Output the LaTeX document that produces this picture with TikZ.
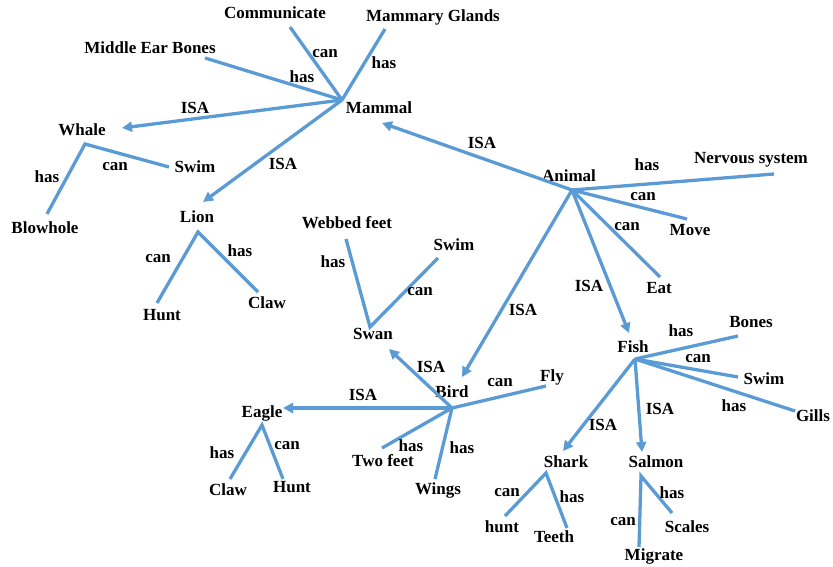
\documentclass[tikz,border=0pt]{standalone}
\usepackage{fontspec}
\setmainfont{Liberation Serif}
\usetikzlibrary{arrows.meta}
\definecolor{linkblue}{RGB}{91,155,213}
\tikzset{
  txt/.style={font=\fontsize{17}{17}\selectfont\bfseries, inner sep=0pt},
  lnk/.style={draw=linkblue, line width=3.3pt},
  isa/.style={lnk, -{Triangle[length=10pt,width=10pt]}},
}
\begin{document}
\begin{tikzpicture}[x=1pt,y=-1pt]
  \useasboundingbox (0,0) rectangle (833,567);
  % hubs
  \coordinate (mamH) at (342,100); \coordinate (aniH) at (572,190);
  \coordinate (whaH) at (85,144); \coordinate (lioH) at (198,232);
  \coordinate (swaH) at (370,327); \coordinate (birH) at (452,408);
  \coordinate (eagH) at (262,425); \coordinate (fisH) at (635,359);
  \coordinate (shaH) at (546,473); \coordinate (salH) at (641,476);
  % concept labels
  \node[txt] (mam) at (379,108) {Mammal};
  \node[txt] (ani) at (569,176) {Animal};
  \node[txt] (comm) at (275,13) {Communicate};
  \node[txt] (mgl) at (433,17) {Mammary Glands};
  \node[txt] (meb) at (150,48) {Middle Ear Bones};
  \node[txt] (wha) at (82,130) {Whale};
  \node[txt] (wsw) at (195,167) {Swim};
  \node[txt] (blo) at (45,228) {Blowhole};
  \node[txt] (lio) at (197,217) {Lion};
  \node[txt] (lhu) at (162,315) {Hunt};
  \node[txt] (lcl) at (267,303) {Claw};
  \node[txt] (web) at (347,223) {Webbed feet};
  \node[txt] (ssw) at (454,245) {Swim};
  \node[txt] (swa) at (373,334) {Swan};
  \node[txt] (bir) at (452,392) {Bird};
  \node[txt] (fly) at (552,377) {Fly};
  \node[txt] (eag) at (262,413) {Eagle};
  \node[txt] (ecl) at (228,490) {Claw};
  \node[txt] (ehu) at (292,487) {Hunt};
  \node[txt] (two) at (383,461) {Two feet};
  \node[txt] (win) at (438,490) {Wings};
  \node[txt] (ner) at (751,160) {Nervous system};
  \node[txt] (mov) at (690,230) {Move};
  \node[txt] (eat) at (659,288) {Eat};
  \node[txt] (fis) at (633,347) {Fish};
  \node[txt] (bon) at (751,322) {Bones};
  \node[txt] (fsw) at (764,379) {Swim};
  \node[txt] (gil) at (813,416) {Gills};
  \node[txt] (sha) at (566,462) {Shark};
  \node[txt] (sal) at (656,462) {Salmon};
  \node[txt] (shu) at (502,527) {hunt};
  \node[txt] (tee) at (554,537) {Teeth};
  \node[txt] (sca) at (687,527) {Scales};
  \node[txt] (mig) at (654,556) {Migrate};
  % line ends
  \coordinate (commE) at (290,27); \coordinate (mglE) at (385,29);
  \coordinate (mebE) at (205,58); \coordinate (whaT) at (122,128);
  \coordinate (lioT) at (203,202); \coordinate (wswE) at (169,167);
  \coordinate (bloE) at (47,214); \coordinate (lhuE) at (157,303);
  \coordinate (lclE) at (258,292); \coordinate (mamT) at (382,123);
  \coordinate (nerE) at (774,174); \coordinate (movE) at (687,219);
  \coordinate (eatE) at (660,277); \coordinate (fisT) at (629,333);
  \coordinate (birT) at (462,377); \coordinate (webE) at (346,239);
  \coordinate (sswE) at (438,258); \coordinate (swaT) at (389,349);
  \coordinate (eagT) at (283,408); \coordinate (flyE) at (546,386);
  \coordinate (twoE) at (382,448); \coordinate (winE) at (435,479);
  \coordinate (eclE) at (230,479); \coordinate (ehuE) at (283,479);
  \coordinate (bonE) at (738,336); \coordinate (fswE) at (738,377);
  \coordinate (gilE) at (795,411); \coordinate (shaT) at (563,451);
  \coordinate (salT) at (642,452); \coordinate (shuE) at (505,516);
  \coordinate (teeE) at (567,528); \coordinate (migE) at (639,547);
  \coordinate (scaE) at (672,513);
  % connectors
  \draw[lnk] (mamH) -- (commE); \draw[lnk] (mamH) -- (mglE);
  \draw[lnk] (mamH) -- (mebE); \draw[isa] (mamH) -- (whaT);
  \draw[isa] (mamH) -- (lioT);
  \draw[lnk] (wswE) -- (whaH) -- (bloE);
  \draw[lnk] (lhuE) -- (lioH) -- (lclE);
  \draw[isa] (aniH) -- (mamT); \draw[lnk] (aniH) -- (nerE);
  \draw[lnk] (aniH) -- (movE); \draw[lnk] (aniH) -- (eatE);
  \draw[isa] (aniH) -- (fisT); \draw[isa] (aniH) -- (birT);
  \draw[lnk] (webE) -- (swaH) -- (sswE);
  \draw[isa] (birH) -- (swaT); \draw[isa] (birH) -- (eagT);
  \draw[lnk] (birH) -- (flyE); \draw[lnk] (birH) -- (twoE);
  \draw[lnk] (birH) -- (winE);
  \draw[lnk] (eclE) -- (eagH) -- (ehuE);
  \draw[lnk] (fisH) -- (bonE); \draw[lnk] (fisH) -- (fswE);
  \draw[lnk] (fisH) -- (gilE); \draw[isa] (fisH) -- (shaT);
  \draw[isa] (fisH) -- (salT);
  \draw[lnk] (shuE) -- (shaH) -- (teeE);
  \draw[lnk] (migE) -- (salH) -- (scaE);
  % relation labels
  \node[txt] (r1) at (325,54) {can}; \node[txt] (r2) at (384,63) {has};
  \node[txt] (r3) at (302,77) {has}; \node[txt] (r4) at (195,108) {ISA};
  \node[txt] (r5) at (283,164) {ISA}; \node[txt] (r6) at (115,167) {can};
  \node[txt] (r7) at (47,177) {has}; \node[txt] (r8) at (158,259) {can};
  \node[txt] (r9) at (240,251) {has}; \node[txt] (r10) at (482,143) {ISA};
  \node[txt] (r11) at (647,165) {has}; \node[txt] (r12) at (643,197) {can};
  \node[txt] (r13) at (627,227) {can}; \node[txt] (r14) at (589,286) {ISA};
  \node[txt] (r15) at (523,310) {ISA}; \node[txt] (r16) at (333,262) {has};
  \node[txt] (r17) at (420,292) {can}; \node[txt] (r18) at (431,367) {ISA};
  \node[txt] (r19) at (363,395) {ISA}; \node[txt] (r20) at (500,383) {can};
  \node[txt] (r21) at (411,446) {has}; \node[txt] (r22) at (462,448) {has};
  \node[txt] (r23) at (222,453) {has}; \node[txt] (r24) at (287,446) {can};
  \node[txt] (r25) at (681,331) {has}; \node[txt] (r26) at (698,359) {can};
  \node[txt] (r27) at (734,406) {has}; \node[txt] (r28) at (603,425) {ISA};
  \node[txt] (r29) at (660,409) {ISA}; \node[txt] (r30) at (507,493) {can};
  \node[txt] (r31) at (572,497) {has}; \node[txt] (r32) at (623,522) {can};
  \node[txt] (r33) at (672,493) {has};
\end{tikzpicture}
\end{document}
